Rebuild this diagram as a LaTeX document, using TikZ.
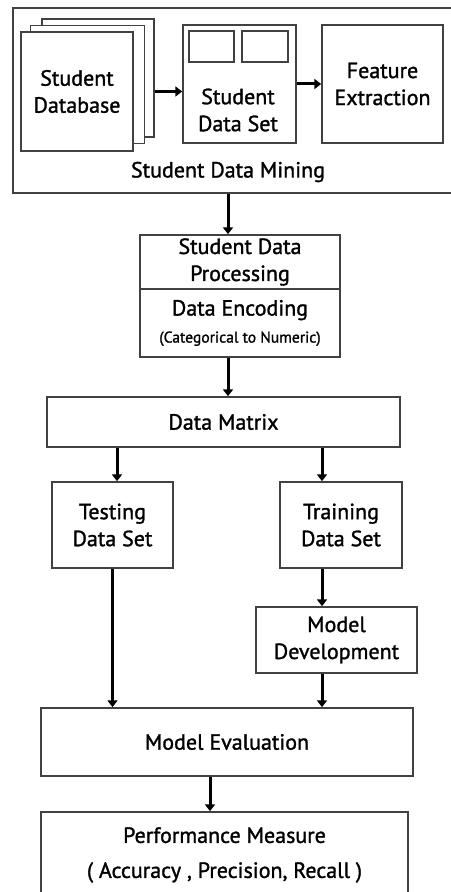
\documentclass[tikz,border=0pt]{standalone}
\usepackage{fontspec}
\setmainfont{PT Sans}[FakeBold=1.3]
\usetikzlibrary{arrows.meta}
\definecolor{boxgray}{RGB}{65,65,65}

\tikzset{
  box/.style={draw=boxgray, line width=0.85pt, fill=white, inner sep=0pt, align=center,
    font=\fontsize{11}{13.5}\selectfont},
  txt/.style={inner sep=0pt, align=center, font=\fontsize{11}{13.5}\selectfont},
  arr/.style={-{Triangle[length=3.4pt,width=5pt]}, line width=1.5pt}
}

\begin{document}
\begin{tikzpicture}[x=0.5pt,y=-0.5pt]
  \useasboundingbox (0,0) rectangle (450,892);

  % data mining part
  \node[box, minimum width=224pt, minimum height=92.5pt] (mining) at (237,100.5) {};
  \node[box, minimum width=56pt, minimum height=59pt] (dbback) at (98,78) {};
  \node[box, minimum width=57pt, minimum height=59pt] (dbmid) at (87.5,84.5) {};
  \node[box, minimum width=56pt, minimum height=59.5pt] (dbfront) at (77,91.5) {Student\\Database};
  \node[box, minimum width=56.5pt, minimum height=59pt] (dataset) at (239.5,84) {};
  \node[box, minimum width=22.5pt, minimum height=15.5pt] (cellA) at (211.5,46.5) {};
  \node[box, minimum width=23pt, minimum height=15.5pt] (cellB) at (265,46.5) {};
  \node[txt] (dsettxt) at (238,110) {Student\\Data Set};
  \node[box, minimum width=60.5pt, minimum height=59pt] (feature) at (382.5,84) {Feature\\Extraction};
  \node[txt] (minlbl) at (228,172) {Student Data Mining};

  \draw[arr] (dbfront.east -| dbback.east) -- (dbfront.east -| dataset.west);
  \draw[arr] (dataset.east) -- (feature.west);

  % processing
  \node[box, minimum width=100pt, minimum height=27pt] (procA) at (240,262) {Student Data\\Processing};
  \node[box, minimum width=100pt, minimum height=34pt] (procB) at (240,323)
    {Data Encoding\\{\fontsize{7.8}{10.5}\selectfont (Categorical to Numeric)}};
  \node[box, minimum width=176.5pt, minimum height=25pt] (matrix) at (223.5,422) {Data Matrix};

  \draw[arr] (mining.south -| minlbl) -- (procA.north -| minlbl);
  \draw[arr] (procB.south -| minlbl) -- (matrix.north -| minlbl);

  % testing / training
  \coordinate (lcol) at (117,0);
  \coordinate (rcol) at (322,0);
  \coordinate (mcol) at (210,0);
  \node[box, minimum width=60.5pt, minimum height=43pt] (testing) at (112.5,525) {Testing\\Data Set};
  \node[box, minimum width=61pt, minimum height=43pt] (training) at (341,525) {Training\\Data Set};
  \node[box, minimum width=80.5pt, minimum height=33pt] (modeldev) at (336.5,640) {Model\\Development};
  \node[box, minimum width=186pt, minimum height=34pt] (modeleval) at (227,742) {Model Evaluation};
  \node[box, minimum width=183.5pt, minimum height=43pt, font=\fontsize{11}{17.5}\selectfont] (perf) at (224.5,855)
    {Performance Measure\\( Accuracy , Precision, Recall )};

  \draw[arr] (matrix.south -| lcol) -- (testing.north -| lcol);
  \draw[arr] (matrix.south -| rcol) -- (training.north -| rcol);
  \draw[arr] (training.south -| rcol) -- (modeldev.north -| rcol);
  \draw[arr] (testing.south) -- (modeleval.north -| testing.south);
  \draw[arr] (modeldev.south -| rcol) -- (modeleval.north -| rcol);
  \draw[arr] (modeleval.south -| mcol) -- (perf.north -| mcol);
\end{tikzpicture}
\end{document}
